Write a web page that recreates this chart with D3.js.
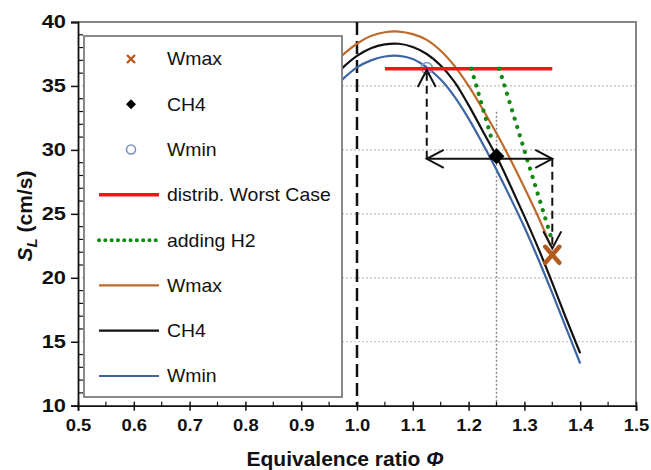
<!DOCTYPE html>
<html>
<head>
<meta charset="utf-8">
<script src="https://cdn.jsdelivr.net/npm/d3@7"></script>
<style>
  body { margin: 0; background: #fff; }
  svg { display: block; font-family: "Liberation Sans", Arial, sans-serif; }
</style>
</head>
<body>
<div id="chart"></div>
<script>
// ---- data ----
var phi  = [0.95, 0.975, 1.0, 1.025, 1.05, 1.075, 1.1, 1.125, 1.15, 1.175, 1.2, 1.225, 1.25, 1.275, 1.3, 1.325, 1.35, 1.375, 1.4];
var ch4  = [35.3, 36.45, 37.35, 37.95, 38.25, 38.3, 38.05, 37.5, 36.6, 35.3, 33.5, 31.5, 29.5, 27.2, 24.8, 22.3, 19.6, 16.8, 14.1];
var wmin = [34.4, 35.55, 36.45, 37.0, 37.3, 37.35, 37.1, 36.45, 35.5, 34.15, 32.45, 30.5, 28.45, 26.25, 23.95, 21.45, 18.8, 16.05, 13.3];
var wmaxPhi = [0.95, 0.975, 1.0, 1.025, 1.05, 1.075, 1.1, 1.125, 1.15, 1.175, 1.2, 1.225, 1.25, 1.275, 1.3, 1.325, 1.347];
var wmax = [36.4, 37.45, 38.3, 38.9, 39.2, 39.25, 39.05, 38.6, 37.75, 36.55, 35.0, 33.2, 31.3, 29.25, 27.05, 24.75, 22.5];

var wmaxPoint = [1.35, 21.8];
var ch4Point = [1.25, 29.5];
var wminPoint = [1.125, 36.4];

var worstCase = [[1.05, 36.35], [1.35, 36.35]];
var addingH2 = [[[1.205, 36.35], [1.243, 30.6]], [[1.255, 36.35], [1.347, 23.3]]];

var upArrow = [[1.125, 29.3], [1.125, 36.25]];
var spanArrow = [[1.125, 29.3], [1.35, 29.3]];
var downArrow = [[1.35, 29.3], [1.35, 22.3]];
var stoich = 1.0;
var refLine = [[1.25, 10], [1.25, 33.0]];

var xTicks = [0.5, 0.6, 0.7, 0.8, 0.9, 1.0, 1.1, 1.2, 1.3, 1.4, 1.5];
var yTicks = [10, 15, 20, 25, 30, 35, 40];
var gridValues = [15, 20, 25, 30, 35];

var legendItems = ["Wmax", "CH4", "Wmin", "distrib. Worst Case", "adding H2", "Wmax", "CH4", "Wmin"];

// ---- colours ----
var cBrown = "#bd6a2b", cBlack = "#111", cBlue = "#3d65a3", cRed = "#f41616", cGreen = "#128a12";

var svg = d3.select("#chart").append("svg")
    .attr("width", 651).attr("height", 470);

var x = d3.scaleLinear().domain([0.5, 1.5]).range([78, 636]);
var y = d3.scaleLinear().domain([10, 40]).range([405.7, 22]);

var line = d3.line()
    .x(function(d) { return x(d[0]); })
    .y(function(d) { return y(d[1]); });
var smooth = d3.line()
    .x(function(d) { return x(d[0]); })
    .y(function(d) { return y(d[1]); })
    .curve(d3.curveCatmullRom.alpha(0.5));

// stretch text horizontally (the original picture is a bit wide)
function stretch(sel, k) {
    sel.each(function() {
        var len = this.getComputedTextLength();
        d3.select(this).attr("textLength", len * k).attr("lengthAdjust", "spacingAndGlyphs");
    });
}

// open arrow head
svg.append("defs").append("marker")
    .attr("id", "arrow")
    .attr("markerUnits", "userSpaceOnUse")
    .attr("viewBox", "-20 -12 24 24")
    .attr("markerWidth", 24).attr("markerHeight", 24)
    .attr("refX", 0).attr("refY", 0)
    .attr("orient", "auto-start-reverse")
    .append("path")
    .attr("d", "M-17,-9L0,0L-17,9")
    .attr("fill", "none")
    .attr("stroke", "#111")
    .attr("stroke-width", 2);

// grid
svg.append("g").selectAll("line")
    .data(gridValues)
    .enter().append("line")
    .attr("x1", x(0.5)).attr("x2", x(1.5))
    .attr("y1", function(d) { return y(d); })
    .attr("y2", function(d) { return y(d); })
    .attr("stroke", "#bdbdbd")
    .attr("stroke-dasharray", "2,2")
    .attr("stroke-width", 1.2);

// frame (top + right)
svg.append("path")
    .attr("d", "M" + x(0.5) + "," + y(40) + "H" + x(1.5) + "V" + y(10))
    .attr("fill", "none")
    .attr("stroke", "#858585")
    .attr("stroke-width", 2);

// reference dotted line at 1.25
svg.append("path")
    .attr("d", line(refLine))
    .attr("stroke", "#8a8a8a")
    .attr("stroke-width", 1.5)
    .attr("stroke-dasharray", "2,2");

// stoichiometric dashed line
svg.append("line")
    .attr("x1", x(stoich)).attr("x2", x(stoich))
    .attr("y1", y(40)).attr("y2", y(10))
    .attr("stroke", "#111")
    .attr("stroke-width", 2.5)
    .attr("stroke-dasharray", "13,6");

// curves
var curves = [
    {color: cBrown, pts: d3.zip(wmaxPhi, wmax)},
    {color: cBlack, pts: d3.zip(phi, ch4)},
    {color: cBlue, pts: d3.zip(phi, wmin)}
];
svg.append("g").selectAll("path")
    .data(curves)
    .enter().append("path")
    .attr("d", function(d) { return smooth(d.pts); })
    .attr("fill", "none")
    .attr("stroke", function(d) { return d.color; })
    .attr("stroke-width", 2.2);

// Wmin circle marker (behind red line)
svg.append("circle")
    .attr("cx", x(wminPoint[0])).attr("cy", y(wminPoint[1]))
    .attr("r", 5.5)
    .attr("fill", "none")
    .attr("stroke", "#86a0d2")
    .attr("stroke-width", 1.8);

// worst case line
svg.append("path")
    .attr("d", line(worstCase))
    .attr("stroke", cRed)
    .attr("stroke-width", 3.5);

// adding H2
svg.append("g").selectAll("path")
    .data(addingH2)
    .enter().append("path")
    .attr("d", function(d) { return line(d); })
    .attr("stroke", cGreen)
    .attr("stroke-width", 4.2)
    .attr("stroke-linecap", "round")
    .attr("stroke-dasharray", "0.1,8.6");

// arrows
svg.append("path")
    .attr("d", line(upArrow))
    .attr("fill", "none")
    .attr("stroke", "#111").attr("stroke-width", 2)
    .attr("stroke-dasharray", "8,5")
    .attr("marker-end", "url(#arrow)");
svg.append("path")
    .attr("d", line(downArrow))
    .attr("fill", "none")
    .attr("stroke", "#111").attr("stroke-width", 2)
    .attr("stroke-dasharray", "8,5")
    .attr("marker-end", "url(#arrow)");
svg.append("path")
    .attr("d", line(spanArrow))
    .attr("fill", "none")
    .attr("stroke", "#111").attr("stroke-width", 2)
    .attr("marker-start", "url(#arrow)")
    .attr("marker-end", "url(#arrow)");

// CH4 diamond
svg.append("path")
    .attr("transform", "translate(" + x(ch4Point[0]) + "," + y(ch4Point[1]) + ")")
    .attr("d", "M0,-8L8,0L0,8L-8,0Z")
    .attr("fill", "#000");

// Wmax cross
var xs = x(wmaxPoint[0]), ys = y(wmaxPoint[1]);
svg.append("path")
    .attr("d", "M" + (xs - 7) + "," + (ys - 8) + "L" + (xs + 7) + "," + (ys + 8) +
               "M" + (xs + 7) + "," + (ys - 8) + "L" + (xs - 7) + "," + (ys + 8))
    .attr("stroke", "#b35a1e")
    .attr("stroke-width", 4.5)
    .attr("stroke-linecap", "round");

// axes
var yAxis = svg.append("g")
    .attr("transform", "translate(" + x(0.5) + ",0)")
    .call(d3.axisLeft(y).tickValues(yTicks).tickSize(7).tickPadding(5));
yAxis.select(".domain").attr("stroke", "#111").attr("stroke-width", 1.8);
yAxis.selectAll(".tick line").attr("stroke", "#111").attr("stroke-width", 1.5);
yAxis.selectAll("text")
    .attr("font-size", 18.5).attr("font-weight", "bold")
    .attr("font-family", "Liberation Sans, Arial, sans-serif")
    .attr("fill", "#111")
    .call(stretch, 1.18);

svg.append("g").selectAll("line")
    .data(d3.range(10, 40.5, 1).filter(function(d) { return d % 5 !== 0; }))
    .enter().append("line")
    .attr("x1", x(0.5)).attr("x2", x(0.5) + 5)
    .attr("y1", function(d) { return y(d); })
    .attr("y2", function(d) { return y(d); })
    .attr("stroke", "#111").attr("stroke-width", 1.2);

var xAxis = svg.append("g")
    .attr("transform", "translate(0," + y(10) + ")")
    .call(d3.axisBottom(x).tickValues(xTicks).tickFormat(d3.format(".1f")).tickSize(5).tickPadding(9));
xAxis.select(".domain").attr("stroke", "#111").attr("stroke-width", 1.8);
xAxis.selectAll(".tick line").attr("y1", -4).attr("stroke", "#111").attr("stroke-width", 1.5);
xAxis.selectAll("text")
    .attr("font-size", 16).attr("font-weight", "bold")
    .attr("font-family", "Liberation Sans, Arial, sans-serif")
    .attr("fill", "#111")
    .call(stretch, 1.15);

svg.append("g").selectAll("line")
    .data(d3.range(0.55, 1.5, 0.1))
    .enter().append("line")
    .attr("x1", function(d) { return x(d); })
    .attr("x2", function(d) { return x(d); })
    .attr("y1", y(10)).attr("y2", y(10) - 4)
    .attr("stroke", "#111").attr("stroke-width", 1.2);

// axis titles
svg.append("text")
    .attr("x", 345).attr("y", 466)
    .attr("text-anchor", "middle")
    .attr("font-size", 21).attr("font-weight", "bold")
    .attr("fill", "#111")
    .text("Equivalence ratio ")
    .append("tspan").attr("font-style", "italic").text("Φ");

var yt = svg.append("text")
    .attr("transform", "translate(32,216) rotate(-90)")
    .attr("text-anchor", "middle")
    .attr("font-size", 21).attr("font-weight", "bold")
    .attr("fill", "#111");
yt.append("tspan").attr("font-style", "italic").text("S");
yt.append("tspan").attr("font-style", "italic").attr("font-size", 15).attr("dy", 5).text("L");
yt.append("tspan").attr("dy", -5).text(" (cm/s)");

// legend
var legendBox = svg.append("g");
legendBox.append("rect")
    .attr("x", 84).attr("y", 36)
    .attr("width", 258).attr("height", 361)
    .attr("fill", "#fff")
    .attr("stroke", "#7d7d7d")
    .attr("stroke-width", 1.8);

var rowY = d3.scalePoint().domain(d3.range(legendItems.length)).range([59, 376]);

var legend = legendBox.selectAll(".legend")
    .data(legendItems)
    .enter().append("g")
    .attr("class", "legend")
    .attr("transform", function(d, i) { return "translate(0," + rowY(i) + ")"; });

legend.append("text")
    .attr("x", 167).attr("y", 0)
    .attr("dy", "0.35em")
    .attr("font-size", 18.5)
    .attr("fill", "#111")
    .text(function(d) { return d; })
    .call(stretch, 1.05);

// legend symbols
var lineStyles = [null, null, null,
    {c: cRed, w: 3.5, dash: null},
    {c: cGreen, w: 4, dash: "0.1,6.2"},
    {c: cBrown, w: 2.2, dash: null},
    {c: cBlack, w: 2.2, dash: null},
    {c: cBlue, w: 2.2, dash: null}];

legend.each(function(d, i) {
    var g = d3.select(this);
    if (i === 0) {
        g.append("path")
            .attr("d", "M127,-4L135,4M135,-4L127,4")
            .attr("stroke", "#b35a1e").attr("stroke-width", 2.4);
    } else if (i === 1) {
        g.append("path")
            .attr("d", "M131,-5L136,0L131,5L126,0Z")
            .attr("fill", "#000");
    } else if (i === 2) {
        g.append("circle")
            .attr("cx", 131).attr("cy", 0).attr("r", 4.5)
            .attr("fill", "none").attr("stroke", "#7d93c6").attr("stroke-width", 1.6);
    } else {
        var s = lineStyles[i];
        g.append("line")
            .attr("x1", 99).attr("x2", 159)
            .attr("y1", 0).attr("y2", 0)
            .attr("stroke", s.c)
            .attr("stroke-width", s.w)
            .attr("stroke-linecap", s.dash ? "round" : "butt")
            .attr("stroke-dasharray", s.dash);
    }
});
</script>
</body>
</html>
